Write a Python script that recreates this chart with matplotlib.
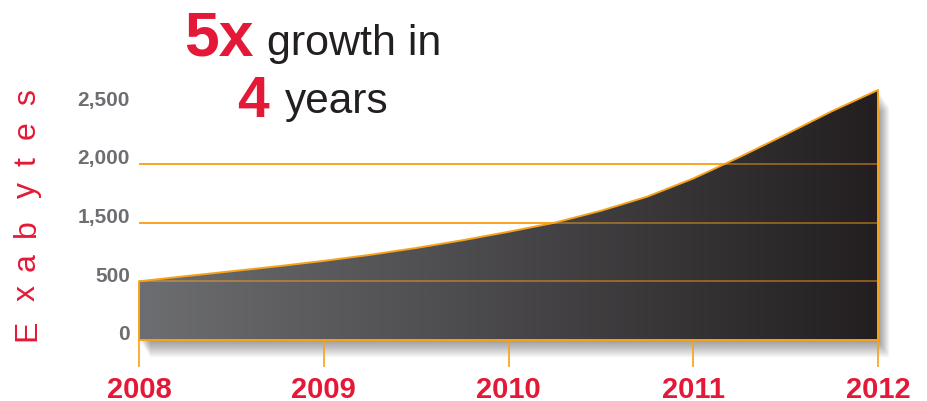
import numpy as np
import matplotlib
matplotlib.use('Agg')
import matplotlib.pyplot as plt
from matplotlib.colors import LinearSegmentedColormap
from matplotlib.transforms import ScaledTranslation

plt.rcParams['font.family'] = ['Liberation Sans', 'DejaVu Sans']

# data (exabytes, quarter-year steps)
years = [2008.0, 2008.25, 2008.5, 2008.75, 2009.0, 2009.25, 2009.5, 2009.75,
         2010.0, 2010.25, 2010.5, 2010.75, 2011.0, 2011.25, 2011.5, 2011.75, 2012.0]
exabytes = [500, 587, 671, 756, 848, 951, 1068, 1199,
            1344, 1499, 1601, 1721, 1876, 2058, 2251, 2449, 2630]

year_ticks = [2008, 2009, 2010, 2011, 2012]
year_labels = ['2008', '2009', '2010', '2011', '2012']
y_ticks = [0, 500, 1500, 2000, 2500]
y_labels = ['0', '500', '1,500', '2,000', '2,500']
grid_values = [500, 1500, 2000]

orange = '#f7a21b'
red = '#e31937'
gray = '#6d6e71'
dark = '#231f20'

W, H = 927, 402


# the labels are evenly spaced even though 1,000 is missing
def forward(v):
    v = np.asarray(v, dtype=float)
    pos = np.interp(v, y_ticks, np.arange(len(y_ticks)))
    pos = np.where(v > y_ticks[-1], len(y_ticks) - 1 + (v - y_ticks[-1]) / 500.0, pos)
    pos = np.where(v < 0, v / 500.0, pos)
    return pos


def inverse(p):
    p = np.asarray(p, dtype=float)
    v = np.interp(p, np.arange(len(y_ticks)), y_ticks)
    v = np.where(p > len(y_ticks) - 1, y_ticks[-1] + (p - len(y_ticks) + 1) * 500.0, v)
    v = np.where(p < 0, p * 500.0, v)
    return v


fig = plt.figure(figsize=(W / 100, H / 100), dpi=100)
ax = fig.add_axes([139 / W, (H - 341) / H, (878 - 139) / W, (341 - 91) / H])
ax.set_yscale('function', functions=(forward, inverse))

# soft shadow under and right of the area
for i in range(1, 13):
    off = ScaledTranslation(i * 0.9 / 100, -i * 1.4 / 100, fig.dpi_scale_trans)
    ax.fill_between(years, 0, exabytes, color='black', alpha=0.035, lw=0,
                    transform=ax.transData + off, zorder=0, clip_on=False)

for v in grid_values:
    ax.axhline(v, color=orange, lw=1.3, zorder=1)

area = ax.fill_between(years, 0, exabytes, color='none', lw=0, zorder=2)
cmap = LinearSegmentedColormap.from_list('g', [gray, dark])
grad = np.linspace(0, 1, 256).reshape(1, -1)
im = ax.imshow(grad, extent=[years[0], years[-1], 0, max(exabytes)], aspect='auto',
               cmap=cmap, zorder=2, interpolation='bilinear')
im.set_clip_path(area.get_paths()[0], ax.transData)

for v in grid_values:
    ax.axhline(v, color=orange, lw=1.3, alpha=0.5, zorder=3)

# outline of the area
ox = [years[0]] + years + [years[-1], years[0]]
oy = [0] + exabytes + [0, 0]
ax.plot(ox, oy, color=orange, lw=1.4, zorder=4, clip_on=False)

ax.set_xlim(years[0], years[-1])
ax.set_ylim(0, max(exabytes))
for s in ax.spines.values():
    s.set_visible(False)
ax.set_facecolor('none')

ax.set_xticks(year_ticks)
ax.set_xticklabels(year_labels, fontsize=21, fontweight='bold', color=red)
ax.tick_params(axis='x', length=19.5, width=1.2, color=orange, pad=5.5)
ax.xaxis.get_major_ticks()[0].tick1line.set_linestyle(':')

ax.set_yticks(y_ticks)
ax.set_yticklabels(y_labels, fontsize=15, fontweight='bold', color=gray)
ax.tick_params(axis='y', length=0, pad=6.5)
for lbl in ax.get_yticklabels():
    lbl.set_transform(lbl.get_transform() + ScaledTranslation(0, 8 / 100, fig.dpi_scale_trans))
ax.yaxis.set_minor_locator(matplotlib.ticker.NullLocator())


def fx(x):
    return x / W


def fy(y):
    return 1 - y / H


# y axis title, letters spread out
letters = ['E', 'x', 'a', 'b', 'y', 't', 'e', 's']
letter_y = [330, 293, 262, 228, 190, 162, 130, 97]
for ch, yy in zip(letters, letter_y):
    fig.text(fx(35), fy(yy), ch, rotation=90, rotation_mode='anchor',
             ha='center', va='baseline', fontsize=23, color=red)

# headline
fig.text(fx(184), fy(55), '5x', fontsize=45, fontweight='bold', color=red,
         ha='left', va='baseline')
fig.text(fx(267), fy(55), 'growth in', fontsize=31, color=dark,
         ha='left', va='baseline')
fig.text(fx(237), fy(117), '4', fontsize=41, fontweight='bold', color=red,
         ha='left', va='baseline')
fig.text(fx(285), fy(113), 'years', fontsize=30.5, color=dark,
         ha='left', va='baseline')

fig.savefig('out.png', dpi=100)
